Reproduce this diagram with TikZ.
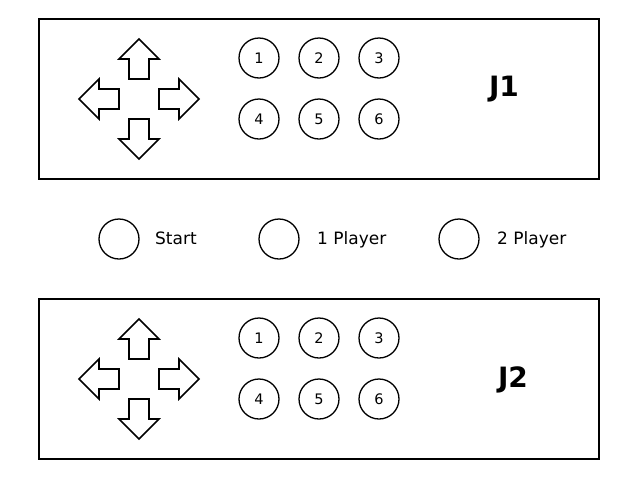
\documentclass[tikz,border=0pt]{standalone}
\usepackage{fontspec}
\setmainfont{DejaVu Sans}
\usetikzlibrary{positioning}

\begin{document}
\begin{tikzpicture}[
      x=1pt, y=-1pt,
      panel/.style={
         rectangle,
         draw=black,
         line width=1.6pt,
         minimum width=560pt,
         minimum height=160pt,
         outer sep=0pt},
      button/.style={
         circle,
         draw=black,
         line width=1.3pt,
         inner sep=0pt,
         outer sep=0pt,
         minimum size=40pt,
         font=\fontsize{14.5}{17}\selectfont},
      caption/.style={
         anchor=base west,
         inner sep=0pt,
         font=\fontsize{17}{20}\selectfont},
      player/.style={
         anchor=base,
         inner sep=0pt,
         font=\bfseries\fontsize{28}{32}\selectfont},
      padarrow/.style={
         draw=black,
         line width=1.6pt,
         line join=miter},
      node distance=21pt and 20pt,
      ]
      \useasboundingbox (0,0) rectangle (640,480);

      %% the two joypads
      \foreach \p/\dy/\jx/\jy in {1/0/504/96, 2/280/513/387} {
        % frame
        \node[panel] (j\p) at (319,99+\dy) {};
        % fire buttons
        \node[button] (j\p-b1) at (259,58+\dy) {1};
        \node[button,right=of j\p-b1] (j\p-b2) {2};
        \node[button,right=of j\p-b2] (j\p-b3) {3};
        \node[button,below=of j\p-b1] (j\p-b4) {4};
        \node[button,right=of j\p-b4] (j\p-b5) {5};
        \node[button,right=of j\p-b5] (j\p-b6) {6};
        % name
        \node[player] (j\p-name) at (\jx,\jy) {J\p};
        % cross
        \foreach \r in {0,90,180,270}
          \draw[padarrow, shift={(139,99+\dy)}, rotate=\r]
            (-10,20) -- (-10,40) -- (-20,40) -- (0,60) -- (20,40) -- (10,40) -- (10,20) -- cycle;
      }

      %% start / player select
      \node[button] (start) at (119,239) {};
      \node[button] (one) at (279,239) {};
      \node[button] (two) at (459,239) {};

      \node[caption] (start-txt) at (155,244) {Start};
      \node[caption] (one-txt) at (317,244) {1 Player};
      \node[caption] (two-txt) at (497,244) {2 Player};
\end{tikzpicture}
\end{document}
